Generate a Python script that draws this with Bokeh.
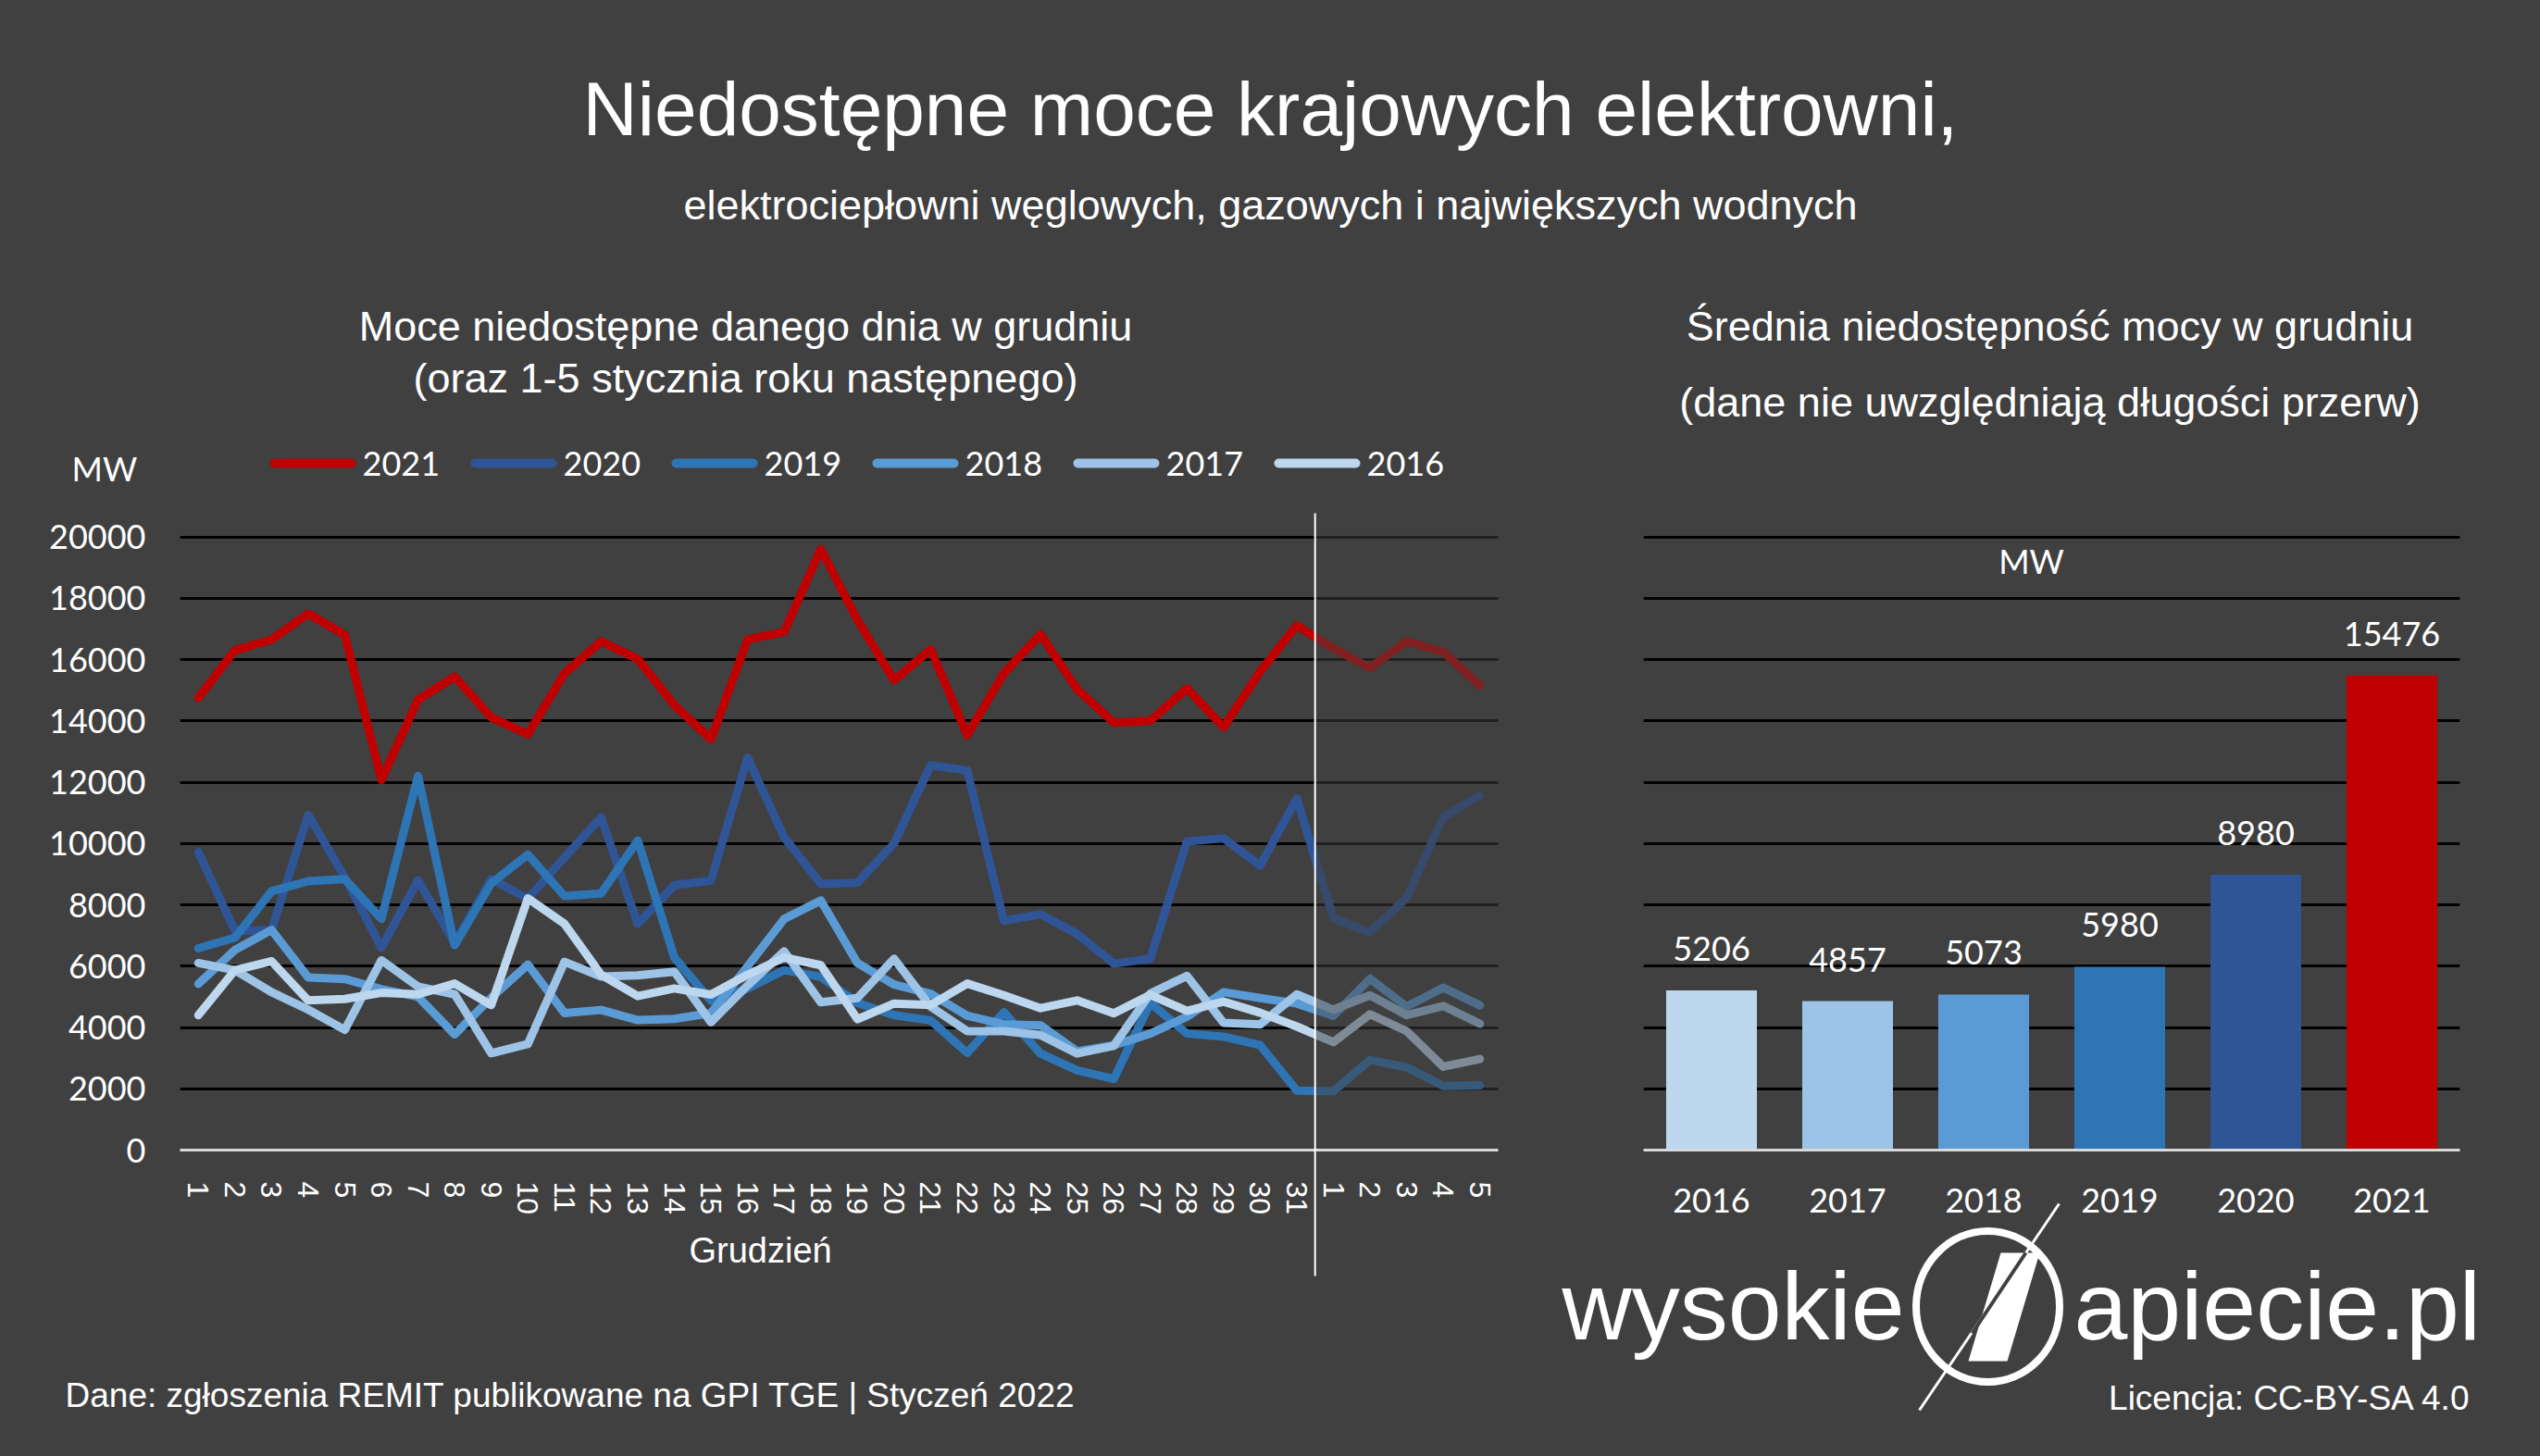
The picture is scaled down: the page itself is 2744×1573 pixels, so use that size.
from bokeh.plotting import figure
from bokeh.layouts import column, row
from bokeh.models import Range1d, FixedTicker, BoxAnnotation, NumeralTickFormatter
from bokeh.core.properties import value
from bokeh.embed import file_html
from bokeh.resources import INLINE

# ---------------- data ----------------
dec_days = [str(d) for d in range(1, 32)]
jan_days = ["1", "2", "3", "4", "5"]
day_labels = dec_days + jan_days
y_ticks = [0, 2000, 4000, 6000, 8000, 10000, 12000, 14000, 16000, 18000, 20000]

series_years = ["2021", "2020", "2019", "2018", "2017", "2016"]

mw_2021 = [14750, 16300, 16650, 17500, 16800, 12070, 14690, 15440, 14110, 13560,
           15550, 16590, 16020, 14510, 13400, 16650, 16900, 19600, 17290, 15320,
           16330, 13530, 15550, 16820, 15030, 13940, 14000, 15060, 13790, 15610,
           17110, 16360, 15730, 16590, 16250, 15150]
mw_2020 = [9720, 7150, 7180, 10930, 8900, 6600, 8800, 6750, 8840, 8200,
           9550, 10850, 7380, 8640, 8790, 12800, 10200, 8680, 8720, 10000,
           12550, 12380, 7480, 7690, 7050, 6080, 6240, 10070, 10170, 9280,
           11460, 7560, 7100, 8230, 10860, 11570]
mw_2019 = [6580, 6930, 8440, 8770, 8840, 7540, 12200, 6680, 8700, 9640,
           8290, 8370, 10100, 6280, 4870, 5270, 5870, 5650, 4800, 4400,
           4230, 3170, 4500, 3150, 2600, 2320, 4800, 3800, 3700, 3420,
           1940, 1920, 2940, 2700, 2090, 2110]
mw_2018 = [5420, 6530, 7180, 5630, 5580, 5250, 5000, 3770, 4970, 6050,
           4470, 4570, 4240, 4280, 4470, 5990, 7540, 8140, 6100, 5400,
           5100, 4380, 4100, 4070, 3220, 3420, 3800, 4350, 5150, 4960,
           4780, 4380, 5590, 4680, 5300, 4720]
mw_2017 = [6100, 5870, 5150, 4580, 3920, 6190, 5330, 5080, 3160, 3460,
           6140, 5660, 5700, 5820, 4170, 5370, 6480, 4820, 4960, 6240,
           4680, 3880, 3880, 3750, 3150, 3400, 5110, 5680, 4150, 4100,
           5080, 4580, 5050, 4400, 4700, 4120]
mw_2016 = [4400, 5870, 6160, 4880, 4930, 5130, 5080, 5430, 4730, 8210,
           7380, 5720, 5020, 5270, 5070, 5720, 6280, 6030, 4270, 4780,
           4730, 5430, 5050, 4630, 4880, 4460, 5060, 4540, 4840, 4480,
           4030, 3520, 4430, 3880, 2720, 2970]

bar_years = ["2016", "2017", "2018", "2019", "2020", "2021"]
bar_avg = [5206, 4857, 5073, 5980, 8980, 15476]

# ---------------- style ----------------
BG = "#404040"
COLORS = {"2021": "#C00000", "2020": "#2F5597", "2019": "#2E75B6",
          "2018": "#5B9BD5", "2017": "#9DC3E6", "2016": "#BDD7EE"}
FONT_T = "Liberation Sans"
FONT_C = "Lato"
FONT_LOGO = "Liberation Sans"

W, H = 2744, 1573
HEAD_H = 300
LEFT_W = 1660
RIGHT_W = W - LEFT_W
BODY_H = H - HEAD_H
FRAME_TOP, FRAME_BOTTOM = 554, 1242          # page pixels
L_LEFT, L_RIGHT = 194, 1618
R_LEFT, R_RIGHT = 1775, 2657
PX_PER_MW = (FRAME_BOTTOM - 579.5) / 20000.0
Y_TOP = (FRAME_BOTTOM - FRAME_TOP) / PX_PER_MW

n_days = len(day_labels)
n_bars = len(bar_years)


def lx(px):
    return -0.5 + (px - L_LEFT) / (L_RIGHT - L_LEFT) * n_days


def rx(px):
    return -0.5 + (px - R_LEFT) / (R_RIGHT - R_LEFT) * n_bars


def yy(py):
    return (FRAME_BOTTOM - py) / PX_PER_MW


def base_style(p):
    p.background_fill_color = BG
    p.border_fill_color = BG
    p.outline_line_color = None


def txt(p, x, y, text, size, font=FONT_T, align="center"):
    p.text(x=[x], y=[y], text=[text], text_font=value(font), text_font_size=f"{size}px",
           text_color="white", text_align=align, text_baseline="middle", level="overlay")


# ---------------- header ----------------
header = figure(width=W, height=HEAD_H, x_range=Range1d(0, W), y_range=Range1d(HEAD_H, 0),
                output_backend="svg", toolbar_location=None,
                x_axis_location=None, y_axis_location=None, min_border=0)
base_style(header)
header.grid.visible = False
txt(header, W / 2, 117, "Niedostępne moce krajowych elektrowni,", 82)
txt(header, W / 2, 221, "elektrociepłowni węglowych, gazowych i największych wodnych", 45)

# ---------------- left: daily lines ----------------
left = figure(width=LEFT_W, height=BODY_H,
              x_range=Range1d(-0.5, n_days - 0.5), y_range=Range1d(0, Y_TOP),
              output_backend="svg", toolbar_location=None,
              min_border_left=L_LEFT, min_border_right=LEFT_W - L_RIGHT,
              min_border_top=FRAME_TOP - HEAD_H, min_border_bottom=H - FRAME_BOTTOM)
base_style(left)
left.xgrid.visible = False
left.ygrid.ticker = FixedTicker(ticks=y_ticks[1:])
left.ygrid.grid_line_color = "black"
left.ygrid.grid_line_width = 3

left.yaxis.ticker = FixedTicker(ticks=y_ticks)
left.yaxis.formatter = NumeralTickFormatter(format="0")
left.yaxis.axis_line_color = None
left.yaxis.major_tick_line_color = None
left.yaxis.minor_tick_line_color = None
left.yaxis.major_label_text_font = FONT_C
left.yaxis.major_label_text_font_size = "36px"
left.yaxis.major_label_text_color = "white"
left.yaxis.major_label_standoff = 31

xs = list(range(n_days))
left.xaxis.ticker = FixedTicker(ticks=xs)
left.xaxis.major_label_overrides = {i: lab for i, lab in enumerate(day_labels)}
left.xaxis.major_label_orientation = "vertical"
left.xaxis.axis_line_color = "#D9D9D9"
left.xaxis.axis_line_width = 3
left.xaxis.major_tick_line_color = None
left.xaxis.minor_tick_line_color = None
left.xaxis.major_label_text_font = FONT_T
left.xaxis.major_label_text_font_size = "32px"
left.xaxis.major_label_text_color = "white"
left.xaxis.major_label_standoff = 28

series_vals = {"2021": mw_2021, "2020": mw_2020, "2019": mw_2019,
               "2018": mw_2018, "2017": mw_2017, "2016": mw_2016}
for yr in series_years:
    left.line(x=xs, y=series_vals[yr], line_color=COLORS[yr], line_width=9,
              line_join="round", line_cap="round")

# faded part (January of following year) and separator
sep_x = len(dec_days) - 0.5
left.add_layout(BoxAnnotation(left=sep_x, bottom=2 / PX_PER_MW, fill_color=BG,
                              fill_alpha=0.5, line_color=None))
left.line(x=[sep_x, sep_x], y=[Y_TOP, yy(1378)], line_color="white", line_width=2,
          level="overlay")

# legend (drawn as marks + texts above the plot frame)
LEG_X0, LEG_PITCH, LEG_Y = 296, 217, 500
for k, yr in enumerate(series_years):
    x0 = LEG_X0 + LEG_PITCH * k
    left.line(x=[lx(x0), lx(x0 + 83)], y=[yy(LEG_Y), yy(LEG_Y)], line_color=COLORS[yr],
              line_width=10, line_cap="round", level="overlay")
    txt(left, lx(x0 + 95), yy(LEG_Y), yr, 36, font=FONT_C, align="left")

txt(left, lx(805), yy(352), "Moce niedostępne danego dnia w grudniu", 45)
txt(left, lx(805), yy(408), "(oraz 1-5 stycznia roku następnego)", 45)
txt(left, lx(77), yy(505), "MW", 36, font=FONT_C, align="left")
txt(left, lx(744), yy(1350), "Grudzień", 38, align="left")
txt(left, lx(70), yy(1507), "Dane: zgłoszenia REMIT publikowane na GPI TGE  | Styczeń 2022", 37,
    align="left")

# ---------------- right: averages ----------------
right = figure(width=RIGHT_W, height=BODY_H,
               x_range=Range1d(-0.5, n_bars - 0.5), y_range=Range1d(0, Y_TOP),
               output_backend="svg", toolbar_location=None, y_axis_location=None,
               min_border_left=R_LEFT - LEFT_W, min_border_right=W - R_RIGHT,
               min_border_top=FRAME_TOP - HEAD_H, min_border_bottom=H - FRAME_BOTTOM)
base_style(right)
right.xgrid.visible = False
right.ygrid.ticker = FixedTicker(ticks=y_ticks[1:])
right.ygrid.grid_line_color = "black"
right.ygrid.grid_line_width = 3

bx = list(range(n_bars))
right.vbar(x=bx, top=bar_avg, width=0.667, fill_color=[COLORS[y] for y in bar_years],
           line_color=None)
right.text(x=bx, y=bar_avg, text=[str(v) for v in bar_avg], y_offset=-45,
           text_font=value(FONT_C), text_font_size="36px", text_color="white",
           text_align="center", text_baseline="middle")

right.xaxis.ticker = FixedTicker(ticks=bx)
right.xaxis.major_label_overrides = {i: y for i, y in enumerate(bar_years)}
right.xaxis.axis_line_color = "#D9D9D9"
right.xaxis.axis_line_width = 3
right.xaxis.major_tick_line_color = None
right.xaxis.minor_tick_line_color = None
right.xaxis.major_label_text_font = FONT_C
right.xaxis.major_label_text_font_size = "36px"
right.xaxis.major_label_text_color = "white"
right.xaxis.major_label_standoff = 35

txt(right, rx(2194), yy(605), "MW", 36, font=FONT_C)
txt(right, rx(2214), yy(352), "Średnia niedostępność mocy w grudniu", 45)
txt(right, rx(2214), yy(434), "(dane nie uwzględniają długości przerw)", 45)
txt(right, rx(2669), yy(1510), "Licencja: CC-BY-SA 4.0", 37, align="right")

# logo
LOGO_F = 104
LOGO_BASE = 1447
txt(right, rx(2057), yy(LOGO_BASE - 0.35 * LOGO_F), "wysokie", LOGO_F, font=FONT_LOGO, align="right")
txt(right, rx(2240), yy(LOGO_BASE - 0.35 * LOGO_F), "apiecie.pl", LOGO_F, font=FONT_LOGO, align="left")
right.ellipse(x=[rx(2147)], y=[yy(1411)], width=155, height=163,
              width_units="screen", height_units="screen",
              fill_color=None, line_color="white", line_width=8, level="overlay")
n_px = [(2161, 1353), (2203, 1353), (2168, 1470), (2126, 1470)]
right.patch(x=[rx(a) for a, b in n_px], y=[yy(b) for a, b in n_px],
            fill_color="white", line_color=None, level="overlay")
right.line(x=[rx(2224), rx(2073)], y=[yy(1300), yy(1523)], line_color="white",
           line_width=3, level="overlay")
right.line(x=[rx(2188), rx(2130)], y=[yy(1353), yy(1440)], line_color=BG,
           line_width=4, level="overlay")

body = row(left, right, spacing=0, styles={"background-color": BG})
layout = column(header, body, spacing=0, styles={"background-color": BG})
open("out.html", "w").write(file_html(layout, INLINE))
